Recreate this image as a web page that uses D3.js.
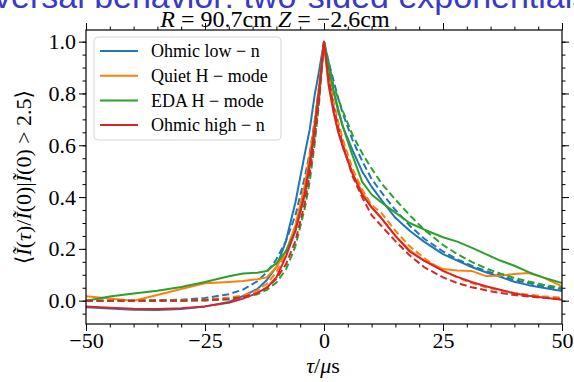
<!DOCTYPE html>
<html>
<head>
<meta charset="utf-8">
<script src="https://cdn.jsdelivr.net/npm/d3@7"></script>
<style>
  body { margin: 0; background: #fff; }
  svg text { font-family: "Liberation Serif", "DejaVu Serif", serif; fill: #000; }
</style>
</head>
<body>
<div id="chart"></div>
<script>
// time lag grid (microseconds) shared by all curves
var tau = [-50,-45,-40,-35,-30,-25,-20,-17,-14,-12,-10,-8,-6,-4,-3,-2,-1,0,1,2,3,4,6,8,10,12,15,18,21,25,28,31,34,37,40,43,46,50];

// measured conditional averages (solid)
var ohmicLow  = [-0.025,-0.03,-0.035,-0.036,-0.032,-0.022,-0.005,0.018,0.045,0.08,0.13,0.23,0.38,0.57,0.66,0.79,0.89,1.0,0.89,0.81,0.73,0.67,0.58,0.50,0.44,0.39,0.32,0.27,0.228,0.18,0.155,0.13,0.11,0.092,0.073,0.06,0.05,0.037];
var quietH    = [0.017,0.008,0.0,0.022,0.045,0.067,0.072,0.076,0.083,0.09,0.13,0.19,0.29,0.45,0.56,0.68,0.83,1.0,0.83,0.73,0.65,0.6,0.49,0.42,0.36,0.32,0.25,0.195,0.155,0.122,0.117,0.115,0.095,0.096,0.103,0.107,0.09,0.055];
var edaH      = [0.0,0.016,0.028,0.038,0.053,0.072,0.094,0.105,0.108,0.115,0.145,0.19,0.27,0.41,0.52,0.65,0.81,1.0,0.9,0.81,0.74,0.67,0.56,0.46,0.41,0.38,0.34,0.30,0.275,0.245,0.228,0.205,0.18,0.155,0.135,0.11,0.09,0.068];
var ohmicHigh = [-0.022,-0.027,-0.031,-0.032,-0.029,-0.022,-0.008,0.008,0.03,0.05,0.09,0.17,0.27,0.42,0.53,0.66,0.82,1.0,0.83,0.73,0.65,0.59,0.49,0.41,0.36,0.32,0.25,0.19,0.155,0.115,0.092,0.072,0.056,0.042,0.028,0.019,0.012,0.004];

// two-sided exponential fits (dashed)
var ohmicLowFit  = [0,0,0.001,0.002,0.004,0.01,0.025,0.043,0.075,0.11,0.16,0.23,0.33,0.48,0.57,0.69,0.83,1.0,0.92,0.85,0.78,0.72,0.62,0.54,0.47,0.42,0.35,0.29,0.24,0.19,0.16,0.135,0.115,0.097,0.08,0.068,0.056,0.045];
var quietHFit    = [0,0,0,0,0.001,0.004,0.012,0.02,0.04,0.065,0.11,0.18,0.29,0.43,0.54,0.66,0.8,1.0,0.87,0.77,0.69,0.62,0.51,0.43,0.37,0.34,0.27,0.21,0.165,0.115,0.09,0.068,0.052,0.04,0.03,0.023,0.017,0.012];
var edaHFit      = [0,0,0,0,0,0.001,0.005,0.012,0.025,0.042,0.07,0.12,0.21,0.36,0.46,0.6,0.77,1.0,0.92,0.83,0.78,0.73,0.64,0.57,0.51,0.455,0.39,0.33,0.275,0.215,0.18,0.15,0.125,0.105,0.088,0.074,0.062,0.05];
var ohmicHighFit = [0,0,0,0,0,0.002,0.007,0.014,0.03,0.05,0.085,0.14,0.23,0.38,0.49,0.62,0.78,1.0,0.86,0.75,0.67,0.6,0.48,0.40,0.33,0.29,0.23,0.175,0.13,0.09,0.068,0.052,0.04,0.03,0.022,0.016,0.011,0.006];

var seriesNames = ["Ohmic low \u2212 n", "Quiet H \u2212 mode", "EDA H \u2212 mode", "Ohmic high \u2212 n"];
var seriesColors = ["#1f77b4", "#ff7f0e", "#2ca02c", "#d62728"];
var measured = [ohmicLow, quietH, edaH, ohmicHigh];
var fitted = [ohmicLowFit, quietHFit, edaHFit, ohmicHighFit];

var xTicks = [-50, -25, 0, 25, 50];
var yTicks = [0, 0.2, 0.4, 0.6, 0.8, 1.0];

var width = 574, height = 382;
var plotLeft = 86, plotRight = 562, plotTop = 30, plotBottom = 324;

var svg = d3.select("#chart").append("svg")
    .attr("width", width)
    .attr("height", height);

// slide heading peeking in at the top
svg.append("text")
    .attr("x", -6)
    .attr("y", 8)
    .style("font-family", "'Liberation Sans', Arial, sans-serif")
    .style("font-size", "34px")
    .style("fill", "#3a3ac6")
    .text("versal behavior: two-sided exponentials");

var x = d3.scaleLinear().domain([-50, 50]).range([plotLeft, plotRight]);
var y = d3.scaleLinear().domain([-0.09, 1.045]).range([plotBottom, plotTop]);

var xMinor = d3.range(-50, 50.1, 5);
var yMinor = d3.range(-0.05, 1.046, 0.05).map(function(d) { return +d.toFixed(2); });

function tidy(g) {
    g.select(".domain").remove();
    g.selectAll(".tick line").attr("stroke", "#000").attr("stroke-width", 1);
}

// minor ticks on all sides
svg.append("g").attr("transform", "translate(0," + plotBottom + ")")
    .call(d3.axisBottom(x).tickValues(xMinor).tickSize(3.5).tickFormat("")).call(tidy);
svg.append("g").attr("transform", "translate(0," + plotTop + ")")
    .call(d3.axisTop(x).tickValues(xMinor).tickSize(3.5).tickFormat("")).call(tidy);
svg.append("g").attr("transform", "translate(" + plotLeft + ",0)")
    .call(d3.axisLeft(y).tickValues(yMinor).tickSize(3.5).tickFormat("")).call(tidy);
svg.append("g").attr("transform", "translate(" + plotRight + ",0)")
    .call(d3.axisRight(y).tickValues(yMinor).tickSize(3.5).tickFormat("")).call(tidy);

// major ticks
var xAxis = svg.append("g").attr("transform", "translate(0," + plotBottom + ")")
    .call(d3.axisBottom(x).tickValues(xTicks).tickSize(7).tickPadding(1)
        .tickFormat(d3.format("d"))).call(tidy);
svg.append("g").attr("transform", "translate(0," + plotTop + ")")
    .call(d3.axisTop(x).tickValues(xTicks).tickSize(7).tickFormat("")).call(tidy);
var yAxis = svg.append("g").attr("transform", "translate(" + plotLeft + ",0)")
    .call(d3.axisLeft(y).tickValues(yTicks).tickSize(7).tickPadding(3)
        .tickFormat(d3.format(".1f"))).call(tidy);
svg.append("g").attr("transform", "translate(" + plotRight + ",0)")
    .call(d3.axisRight(y).tickValues(yTicks).tickSize(7).tickFormat("")).call(tidy);

xAxis.selectAll("text").style("font-size", "22px").attr("fill", "#000");
yAxis.selectAll("text").style("font-size", "22px").attr("fill", "#000");

// curves
svg.append("clipPath").attr("id", "plot-clip")
  .append("rect")
    .attr("x", plotLeft).attr("y", plotTop)
    .attr("width", plotRight - plotLeft).attr("height", plotBottom - plotTop);

var line = d3.line()
    .x(function(d) { return x(d[0]); })
    .y(function(d) { return y(d[1]); });

var curves = svg.append("g").attr("clip-path", "url(#plot-clip)");
measured.forEach(function(vals, i) {
    curves.append("path")
        .datum(d3.zip(tau, vals))
        .attr("d", line)
        .attr("fill", "none")
        .attr("stroke", seriesColors[i])
        .attr("stroke-width", 2)
        .attr("stroke-linejoin", "round");
    curves.append("path")
        .datum(d3.zip(tau, fitted[i]))
        .attr("d", line)
        .attr("fill", "none")
        .attr("stroke", seriesColors[i])
        .attr("stroke-width", 2)
        .style("stroke-dasharray", "7,3.5");
});

// frame
svg.append("rect")
    .attr("x", plotLeft).attr("y", plotTop)
    .attr("width", plotRight - plotLeft).attr("height", plotBottom - plotTop)
    .attr("fill", "none").attr("stroke", "#000").attr("stroke-width", 1.2);

// legend
var legend = svg.append("g");
legend.append("rect")
    .attr("x", 94).attr("y", 37).attr("width", 187).attr("height", 103)
    .attr("rx", 4)
    .attr("fill", "#fff").attr("fill-opacity", 0.8)
    .attr("stroke", "#d6d6d6").attr("stroke-width", 1);
seriesNames.forEach(function(name, i) {
    var ly = 51 + i * 24.7;
    legend.append("line")
        .attr("x1", 100).attr("x2", 138).attr("y1", ly).attr("y2", ly)
        .attr("stroke", seriesColors[i]).attr("stroke-width", 2);
    legend.append("text")
        .attr("x", 151).attr("y", ly).attr("dy", "0.35em")
        .style("font-size", "18px")
        .text(name);
});

// title
var title = svg.append("text")
    .attr("x", 275).attr("y", 27)
    .attr("text-anchor", "middle")
    .style("font-size", "24px");
title.append("tspan").style("font-style", "italic").text("R");
title.append("tspan").text(" = 90.7cm ");
title.append("tspan").style("font-style", "italic").text("Z");
title.append("tspan").text(" = \u22122.6cm");

// x label
var xl = svg.append("text")
    .attr("x", 323).attr("y", 373)
    .attr("text-anchor", "middle")
    .style("font-size", "22px");
xl.append("tspan").style("font-style", "italic").text("\u03c4");
xl.append("tspan").text("/");
xl.append("tspan").style("font-style", "italic").text("\u03bc");
xl.append("tspan").text("s");

// y label
var yl = svg.append("text")
    .attr("transform", "translate(31,177) rotate(-90)")
    .attr("text-anchor", "middle")
    .style("font-size", "22px");
yl.append("tspan").text("\u27e8");
yl.append("tspan").style("font-style", "italic").text("\u0128");
yl.append("tspan").text("(");
yl.append("tspan").style("font-style", "italic").text("\u03c4");
yl.append("tspan").text(")/");
yl.append("tspan").style("font-style", "italic").text("\u0128");
yl.append("tspan").text("(0)|");
yl.append("tspan").style("font-style", "italic").text("\u0128");
yl.append("tspan").text("(0) > 2.5\u27e9");
</script>
</body>
</html>
